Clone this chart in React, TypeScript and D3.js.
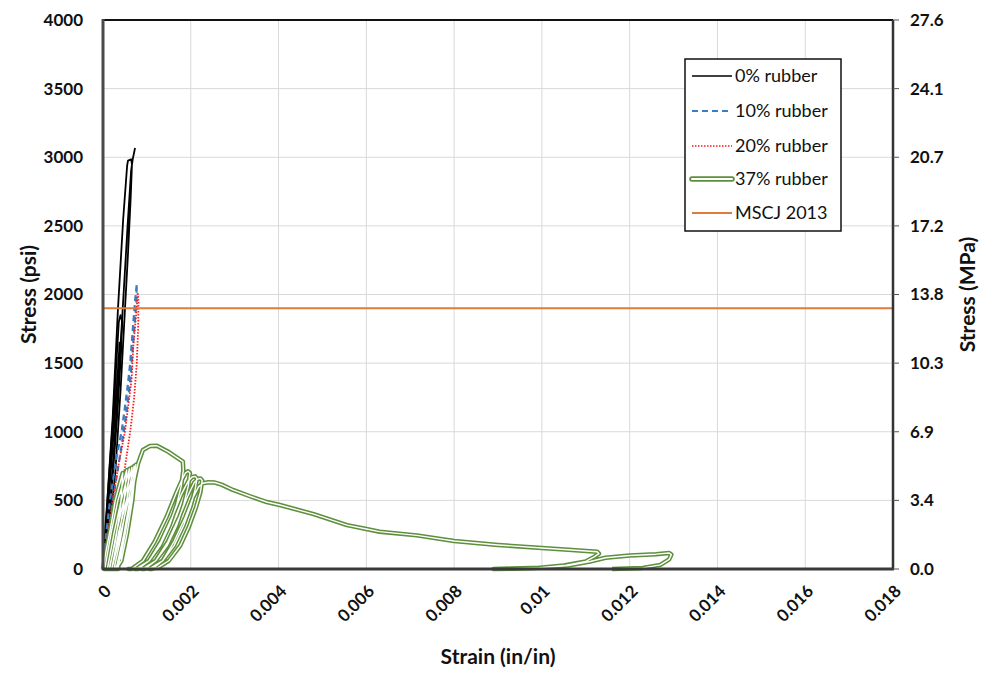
import React from "react";
import * as d3 from "d3";

// ---------- DATA ----------
const xTicks = [0, 0.002, 0.004, 0.006, 0.008, 0.01, 0.012, 0.014, 0.016, 0.018];
const xTickLabels = ["0", "0.002", "0.004", "0.006", "0.008", "0.01", "0.012", "0.014", "0.016", "0.018"];
const yTicks = [0, 500, 1000, 1500, 2000, 2500, 3000, 3500, 4000];
const yTicksMPa = ["0.0", "3.4", "6.9", "10.3", "13.8", "17.2", "20.7", "24.1", "27.6"];

const seriesNames = ["0% rubber", "10% rubber", "20% rubber", "37% rubber", "MSCJ 2013"];

// 0% rubber [strain, psi]
const rubber0: [number, number][] = [
  [0, 0], [0.00005, 300], [0.0001, 500], [0.00022, 1100], [0.00034, 1890], [0.00046, 2550], [0.00055, 2940],
  [0.00057, 2975], [0.00064, 2985], [0.00066, 2950], [0.00063, 2700], [0.00057, 2300],
  [0.0005, 1890], [0.0004, 1300], [0.00028, 700], [0.00014, 250], [0.00006, 0],
  [0.0001, 0], [0.00016, 450], [0.00032, 1200], [0.00045, 1900], [0.00056, 2500],
  [0.00064, 2900], [0.00068, 2990], [0.00073, 3067],
];
const rubber0b: [number, number][] = [
  [0.00002, 0], [0.0001, 500], [0.00024, 1150], [0.00036, 1800], [0.0004, 1850], [0.00044, 1800],
  [0.00034, 1200], [0.0002, 600], [0.00005, 0], [0.00007, 0], [0.00014, 550], [0.00028, 1150],
  [0.00038, 1650], [0.00042, 1620], [0.00032, 1100], [0.00018, 500], [0.00009, 0],
];

// 10% rubber
const rubber10: [number, number][] = [
  [0, 0], [0.00007, 250], [0.00016, 500], [0.0003, 800], [0.00043, 1013], [0.00055, 1300],
  [0.00062, 1500], [0.00068, 1750], [0.00073, 1950], [0.00077, 2077], [0.00076, 1950],
  [0.0007, 1700], [0.00063, 1400], [0.00052, 1100], [0.0004, 850], [0.00025, 550],
  [0.0001, 200], [0.00004, 0],
];

// 20% rubber
const rubber20: [number, number][] = [
  [0.00003, 0], [0.0001, 250], [0.00022, 500], [0.00036, 772], [0.0005, 1000], [0.00058, 1200],
  [0.00065, 1377], [0.00069, 1620], [0.00074, 1800], [0.00077, 1911], [0.00079, 2013],
  [0.00081, 1950], [0.0008, 1750], [0.00077, 1500], [0.00071, 1250], [0.00062, 1000],
  [0.00048, 700], [0.00032, 420], [0.00015, 150], [0.00006, 0],
];

// 37% rubber: pre-peak cycles
const rubber37Pre: [number, number][] = [
  [0, 0], [0.00008, 150], [0.00016, 280], [0.00028, 500], [0.00045, 700], [0.0004, 450],
  [0.00028, 200], [0.00014, 0], [0.00004, 0], [0.00019, 270], [0.00034, 500], [0.00054, 720],
  [0.00047, 450], [0.00034, 200], [0.0002, 0], [0.0001, 0], [0.00025, 260], [0.0004, 480],
  [0.0006, 730], [0.00054, 470], [0.0004, 220], [0.00025, 0], [0.00015, 0], [0.00031, 270],
  [0.00046, 480], [0.00066, 740], [0.0006, 480], [0.00048, 260], [0.0003, 0], [0.0002, 0],
  [0.00036, 270], [0.00052, 480], [0.00071, 750], [0.00064, 500], [0.00053, 300], [0.0004, 80],
  [0.00027, 0], [0.0002, 0], [0.00041, 270], [0.00057, 490], [0.00075, 760], [0.00067, 500],
  [0.00055, 260], [0.00042, 60], [0.0003, 0], [0.00034, 0], [0.00048, 250], [0.00063, 500],
  [0.00074, 680], [0.0008, 770], [0.00091, 867], [0.00107, 896], [0.00123, 898], [0.0015, 852],
  [0.00182, 782], [0.00183, 720],
];
// 37% rubber: unload / reload loops
const rubber37Loops: [number, number][] = [
  [0.00183, 720], [0.00178, 600], [0.00168, 470], [0.00152, 320], [0.0013, 170], [0.00105, 60],
  [0.0008, 10], [0.00058, 0], [0.00065, 0], [0.00091, 60], [0.00118, 200], [0.00145, 380],
  [0.00165, 540], [0.0018, 650], [0.00188, 700], [0.00194, 712], [0.00198, 700],
  [0.00194, 600], [0.00184, 470], [0.00168, 320], [0.00146, 170], [0.0012, 60], [0.00095, 10],
  [0.00072, 0], [0.0008, 0], [0.00105, 60], [0.00132, 200], [0.00158, 380], [0.00178, 540],
  [0.00194, 640], [0.00203, 670], [0.0021, 675], [0.00214, 660],
  [0.0021, 580], [0.002, 460], [0.00184, 320], [0.00162, 170], [0.00136, 60], [0.0011, 10],
  [0.00088, 0], [0.00095, 0], [0.0012, 60], [0.00148, 200], [0.00174, 380], [0.00193, 530],
  [0.00208, 630], [0.00216, 655], [0.00222, 660], [0.00226, 645],
  [0.00222, 560], [0.00212, 450], [0.00196, 310], [0.00176, 170], [0.0015, 60], [0.00125, 10],
  [0.00105, 0], [0.00112, 0], [0.00136, 60], [0.00162, 200], [0.00188, 380], [0.00205, 520],
  [0.00218, 600], [0.00228, 625], [0.0024, 632], [0.00255, 630], [0.0027, 615], [0.00296, 576],
];
// 37% rubber: softening branch and final cycles
const rubber37Soft: [number, number][] = [
  [0.00296, 576], [0.00335, 530], [0.00373, 488], [0.00403, 466], [0.0048, 400], [0.00556, 320],
  [0.006, 291], [0.0063, 272], [0.00715, 245], [0.008, 204], [0.009, 175], [0.01, 153],
  [0.0106, 140], [0.01126, 126], [0.0113, 112], [0.0112, 90], [0.011, 55], [0.0105, 25],
  [0.0099, 8], [0.0093, 2], [0.0089, 0], [0.0093, 3], [0.01, 10], [0.0106, 25], [0.0111, 55],
  [0.01145, 82], [0.012, 98], [0.0126, 108], [0.0129, 117], [0.01295, 105], [0.0129, 70],
  [0.0127, 30], [0.0123, 8], [0.0116, 0],
];

const mscjStress = 1900;

// ---------- CHART ----------
const W = 985, H = 673;
const left = 103, right = 893, top = 20, bottom = 569;
const FONT = "Lato, 'Open Sans', sans-serif";

export default function App() {
  const x = d3.scaleLinear().domain([0, 0.018]).range([left, right]);
  const y = d3.scaleLinear().domain([0, 4000]).range([bottom, top]);
  const line = d3.line<[number, number]>().x(d => x(d[0])).y(d => y(d[1]));
  const green = "#5e8f3c";
  const greenPath = line([...rubber37Pre, ...rubber37Loops.slice(1), ...rubber37Soft.slice(1)]) || "";

  const legX = 685, legY = 59, legW = 156, legH = 172, rowY = [76, 111, 146, 179, 213];

  return (
    <svg width={W} height={H} style={{ position: "absolute", left: 0, top: 0, background: "#fff" }} fontFamily={FONT}>
      <rect x={0} y={0} width={W} height={H} fill="#fff" />
      {/* grid */}
      {xTicks.slice(1, -1).map(t => (
        <line key={"gx" + t} x1={x(t)} x2={x(t)} y1={top} y2={bottom} stroke="#d9d9d9" strokeWidth={1} />
      ))}
      {yTicks.slice(1, -1).map(t => (
        <line key={"gy" + t} x1={left} x2={right} y1={y(t)} y2={y(t)} stroke="#d9d9d9" strokeWidth={1} />
      ))}

      {/* series */}
      <path d={line(rubber0) || ""} fill="none" stroke="#000" strokeWidth={1.8} strokeLinejoin="round" />
      <path d={line(rubber0b) || ""} fill="none" stroke="#000" strokeWidth={1.8} strokeLinejoin="round" />
      <path d={line(rubber10) || ""} fill="none" stroke="#3b7dc4" strokeWidth={2.2} strokeDasharray="6 4" />
      <path d={line(rubber20) || ""} fill="none" stroke="#ff1a1a" strokeWidth={1.8} strokeDasharray="1.5 1.5" />
      <path d={greenPath} fill="none" stroke={green} strokeWidth={4.5} strokeLinejoin="round" />
      <path d={greenPath} fill="none" stroke="#fff" strokeWidth={1.4} strokeLinejoin="round" />
      <line x1={x(0)} x2={x(0.018)} y1={y(mscjStress)} y2={y(mscjStress)} stroke="#e07b39" strokeWidth={2} />

      {/* frame */}
      <line x1={left} x2={right} y1={top} y2={top} stroke="#111" strokeWidth={2} />
      <line x1={right} x2={right} y1={top} y2={bottom} stroke="#333" strokeWidth={2.5} />
      <line x1={left} x2={left} y1={top - 1} y2={bottom + 1} stroke="#4a4a4a" strokeWidth={3} />
      <line x1={left - 1} x2={right + 1} y1={bottom} y2={bottom} stroke="#3a3a3a" strokeWidth={3} />

      {/* left ticks */}
      {yTicks.map(t => (
        <text key={"yl" + t} x={83} y={y(t)} dy="0.35em" textAnchor="end" fontWeight="bold" fontSize={17} fill="#111">{t}</text>
      ))}
      {/* right ticks */}
      {yTicks.map((t, i) => (
        <g key={"yr" + t}>
          <line x1={right} x2={right + 6} y1={y(t)} y2={y(t)} stroke="#555" strokeWidth={1} />
          <text x={910} y={y(t)} dy="0.35em" textAnchor="start" fontWeight="bold" fontSize={17} fill="#111">{yTicksMPa[i]}</text>
        </g>
      ))}
      {/* x ticks */}
      {xTicks.map((t, i) => (
        <text key={"xl" + t} transform={`translate(${x(t) + 5},${588}) rotate(-45)`} textAnchor="end" dy="0.35em"
          fontWeight="bold" fontSize={17} fill="#111">{xTickLabels[i]}</text>
      ))}

      {/* axis titles */}
      <text transform={`translate(29,${(top + bottom) / 2}) rotate(-90)`} textAnchor="middle" dy="0.35em" fontWeight="bold" fontSize={21} fill="#111">Stress (psi)</text>
      <text transform={`translate(968,${(top + bottom) / 2}) rotate(-90)`} textAnchor="middle" dy="0.35em" fontWeight="bold" fontSize={21} fill="#111">Stress (MPa)</text>
      <text x={(left + right) / 2} y={657} textAnchor="middle" dy="0.35em" fontWeight="bold" fontSize={21} fill="#111">Strain (in/in)</text>

      {/* legend */}
      <rect x={legX} y={legY} width={legW} height={legH} fill="#fff" stroke="#111" strokeWidth={1.5} />
      <line x1={692} x2={732} y1={rowY[0]} y2={rowY[0]} stroke="#000" strokeWidth={1.6} />
      <line x1={692} x2={732} y1={rowY[1]} y2={rowY[1]} stroke="#3b7dc4" strokeWidth={2} strokeDasharray="6 4" />
      <line x1={692} x2={732} y1={rowY[2]} y2={rowY[2]} stroke="#ff1a1a" strokeWidth={1.6} strokeDasharray="1.5 1.5" />
      <line x1={692} x2={732} y1={rowY[3]} y2={rowY[3]} stroke={green} strokeWidth={5.5} strokeLinecap="round" />
      <line x1={692} x2={732} y1={rowY[3]} y2={rowY[3]} stroke="#fff" strokeWidth={2} strokeLinecap="round" />
      <line x1={692} x2={732} y1={rowY[4]} y2={rowY[4]} stroke="#e07b39" strokeWidth={2} />
      {seriesNames.map((n, i) => (
        <text key={n} x={735} y={rowY[i]} dy="0.35em" fontSize={18} fill="#111">{n}</text>
      ))}
    </svg>
  );
}
